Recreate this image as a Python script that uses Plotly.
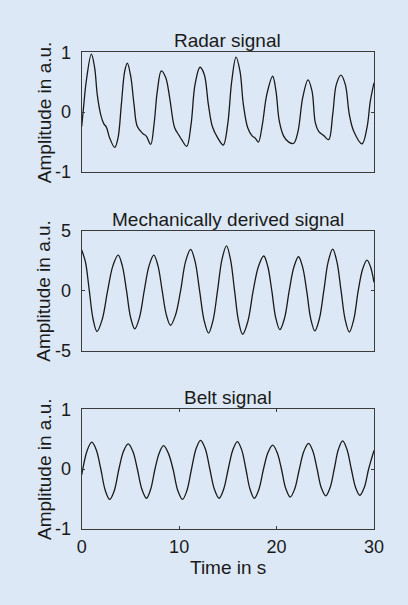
import plotly.graph_objects as go

# ---------------- data ----------------
radar_t = [0, 0.2, 0.47, 0.99, 1.33, 1.6, 1.95, 2.29, 2.53, 2.87, 3.39, 3.73, 4.07, 4.41, 4.68,
           5.03, 5.37, 5.71, 6.29, 6.63, 7.08, 7.42, 7.76, 8.17, 8.62, 9.03, 9.54, 10.0,
           10.26, 10.78, 11.22, 11.63, 12.14, 12.58, 13.0, 13.41, 13.96, 14.53, 14.98, 15.4,
           15.84, 16.25, 16.59, 17.04, 17.51, 17.79, 18.13, 18.54, 18.99, 19.6, 19.94, 20.28,
           20.73, 21.25, 21.76, 22.2, 22.68, 23.23, 23.64, 23.98, 24.32, 24.84, 25.35, 25.76,
           26.13, 26.61, 27.06, 27.47, 27.92, 28.77, 29.28, 29.62, 30]
radar_v = [-0.24, 0.1, 0.52, 0.97, 0.74, 0.29, -0.04, -0.2, -0.25, -0.43, -0.59, -0.43, 0.13,
           0.68, 0.82, 0.6, 0.13, -0.24, -0.36, -0.40, -0.54, -0.21, 0.35, 0.69, 0.58, 0.24,
           -0.26, -0.39, -0.46, -0.57, -0.21, 0.46, 0.75, 0.63, 0.13, -0.24, -0.43, -0.55,
           -0.21, 0.52, 0.92, 0.68, 0.13, -0.26, -0.40, -0.43, -0.50, -0.21, 0.29, 0.6, 0.35,
           -0.15, -0.40, -0.50, -0.52, -0.32, 0.24, 0.54, 0.35, -0.18, -0.32, -0.39, -0.46,
           -0.04, 0.46, 0.62, 0.46, -0.04, -0.32, -0.53, -0.26, 0.18, 0.49]

mech_t = [0, 0.39, 0.78, 1.17, 1.57, 2.11, 2.66, 3.2, 3.74, 4.17, 4.6, 5.02, 5.45, 5.93,
          6.42, 6.91, 7.4, 7.83, 8.26, 8.69, 9.12, 9.63, 10.15, 10.66, 11.18, 11.64, 12.1,
          12.56, 13.02, 13.48, 13.94, 14.4, 14.86, 15.27, 15.69, 16.1, 16.52, 17.06, 17.6,
          18.14, 18.68, 19.1, 19.51, 19.92, 20.34, 20.82, 21.3, 21.78, 22.25, 22.67, 23.09,
          23.51, 23.93, 24.39, 24.85, 25.3, 25.76, 26.19, 26.62, 27.04, 27.47, 27.92, 28.38,
          28.83, 29.28, 29.64, 30]
mech_v = [3.39, 2.37, 0, -2.38, -3.4, -2.38, 0, 2.07, 2.96, 2.07, 0, -2.23, -3.18, -2.23,
          0, 2.07, 2.96, 2.07, 0, -2.02, -2.88, -2.02, 0, 2.42, 3.45, 2.42, 0,
          -2.47, -3.53, -2.47, 0, 2.61, 3.73, 2.61, 0, -2.54, -3.63, -2.54, 0,
          2.02, 2.89, 2.02, 0, -2.28, -3.25, -2.28, 0, 1.98, 2.83, 1.98, 0,
          -2.35, -3.35, -2.35, 0, 2.42, 3.46, 2.42, 0, -2.41, -3.44, -2.41, 0,
          1.79, 2.55, 2.0, 0.7]

belt_t = [0, 0.58, 1.04, 1.5, 1.96, 2.42, 2.88, 3.35, 3.82, 4.3, 4.77, 5.24, 5.71, 6.18,
          6.65, 7.08, 7.52, 7.96, 8.4, 8.88, 9.37, 9.86, 10.34, 10.8, 11.27, 11.74, 12.2,
          12.68, 13.15, 13.62, 14.1, 14.57, 15.04, 15.51, 15.98, 16.42, 16.85, 17.28, 17.72,
          18.19, 18.66, 19.13, 19.6, 20.05, 20.5, 20.95, 21.4, 21.87, 22.34, 22.81, 23.28,
          23.72, 24.16, 24.6, 25.05, 25.48, 25.92, 26.35, 26.78, 27.22, 27.67, 28.11, 28.55,
          29.0, 29.45, 30]
belt_v = [-0.1, 0.32, 0.45, 0.32, 0, -0.36, -0.51, -0.36, 0, 0.3, 0.42, 0.3, 0, -0.34,
          -0.49, -0.34, 0, 0.27, 0.39, 0.27, 0, -0.36, -0.51, -0.36, 0, 0.34, 0.48,
          0.34, 0, -0.34, -0.49, -0.34, 0, 0.32, 0.46, 0.32, 0, -0.34, -0.49,
          -0.34, 0, 0.28, 0.40, 0.28, 0, -0.33, -0.47, -0.33, 0, 0.3, 0.43,
          0.3, 0, -0.32, -0.45, -0.32, 0, 0.33, 0.47, 0.33, 0, -0.31, -0.44,
          -0.31, 0, 0.31]

titles = ["Radar signal", "Mechanically derived signal", "Belt signal"]
y_ranges = [[-1, 1], [-5, 5], [-1, 1]]
y_ticks = [[-1, 0, 1], [-5, 0, 5], [-1, 0, 1]]
y_ticktext = [["-1", "0", "1"], ["-5", "0", "5"], ["-1", "0", "1"]]
x_ticks = [0, 10, 20, 30]
x_ticktext = ["0", "10", "20", "30"]
y_label = "Amplitude in a.u."
x_label = "Time in s"

# ---------------- figure ----------------
BG = "#dce8f5"
INK = "#1a1a1a"
AX = "#3a3a3a"
FONT = "Liberation Sans, Arial, sans-serif"

W, H = 408, 605
x_dom = [81.7 / W, 374.0 / W]
y_px = [(52.3, 172.0), (230.7, 350.7), (409.3, 528.7)]
y_doms = [[1 - b / H, 1 - t / H] for (t, b) in y_px]

fig = go.Figure()
series = [(radar_t, radar_v), (mech_t, mech_v), (belt_t, belt_v)]
for i, (t, v) in enumerate(series):
    sfx = "" if i == 0 else str(i + 1)
    fig.add_trace(go.Scatter(
        x=t, y=v, mode="lines", xaxis="x" + sfx, yaxis="y" + sfx,
        line=dict(color=INK, width=1.3, shape="spline", smoothing=1.0),
        showlegend=False, hoverinfo="skip"))

layout = dict(
    width=W, height=H, margin=dict(l=0, r=0, t=0, b=0, pad=0, autoexpand=False),
    paper_bgcolor=BG, plot_bgcolor=BG,
    font=dict(family=FONT, color=INK, size=18),
    showlegend=False,
)
annotations = []
for i in range(3):
    sfx = "" if i == 0 else str(i + 1)
    last = i == 2
    layout["xaxis" + sfx] = dict(
        domain=x_dom, anchor="y" + sfx, range=[0, 30], automargin=False,
        showline=True, linecolor=AX, linewidth=1, mirror="ticks" if last else True,
        showgrid=False, zeroline=False,
        ticks="inside" if last else "", ticklen=3, tickcolor=AX, tickwidth=1,
        tickmode="array", tickvals=x_ticks if last else [],
        ticktext=x_ticktext if last else [], showticklabels=last,
        tickfont=dict(size=18, family=FONT, color=INK), ticklabelstandoff=2,
    )
    layout["yaxis" + sfx] = dict(
        domain=y_doms[i], anchor="x" + sfx, range=y_ranges[i], automargin=False,
        showline=True, linecolor=AX, linewidth=1, mirror="ticks",
        showgrid=False, zeroline=False,
        ticks="inside", ticklen=3, tickcolor=AX, tickwidth=1,
        tickmode="array", tickvals=y_ticks[i], ticktext=y_ticktext[i],
        tickfont=dict(size=18, family=FONT, color=INK),
        ticklabelstandoff=6,
    )
    annotations.append(dict(
        text=titles[i], xref="paper", yref="paper",
        x=(x_dom[0] + x_dom[1]) / 2, y=y_doms[i][1], yshift=-1,
        xanchor="center", yanchor="bottom", showarrow=False,
        font=dict(size=19, family=FONT, color=INK)))
    annotations.append(dict(
        text=y_label, xref="paper", yref="paper",
        x=44 / W, y=(y_doms[i][0] + y_doms[i][1]) / 2,
        xanchor="center", yanchor="middle", textangle=-90, showarrow=False,
        font=dict(size=19, family=FONT, color=INK)))

annotations.append(dict(
    text=x_label, xref="paper", yref="paper",
    x=(x_dom[0] + x_dom[1]) / 2, y=1 - 567 / H,
    xanchor="center", yanchor="middle", showarrow=False,
    font=dict(size=19, family=FONT, color=INK)))
layout["annotations"] = annotations

fig.update_layout(**layout)
fig.write_html("out.html")
